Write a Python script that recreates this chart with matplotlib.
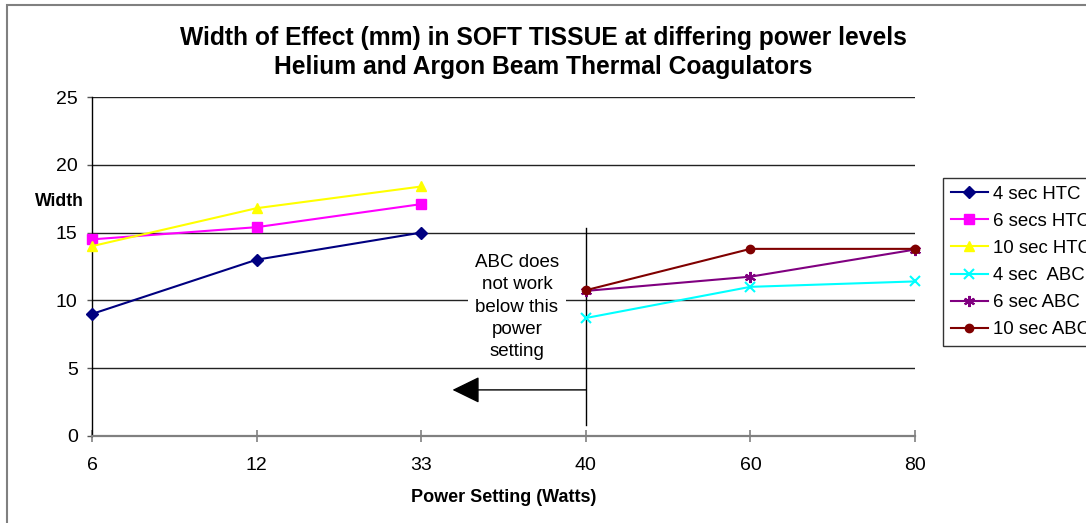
import matplotlib
matplotlib.use("Agg")
import matplotlib.pyplot as plt
from matplotlib.patches import Rectangle

plt.rcParams['font.family'] = ['Liberation Sans', 'DejaVu Sans']

power_labels = ["6", "12", "33", "40", "60", "80"]
htc_idx = [0, 1, 2]
abc_idx = [3, 4, 5]

htc_4 = [9.0, 13.0, 15.0]
htc_6 = [14.5, 15.4, 17.1]
htc_10 = [14.0, 16.8, 18.4]
abc_4 = [8.7, 11.0, 11.4]
abc_6 = [10.7, 11.75, 13.75]
abc_10 = [10.75, 13.8, 13.8]

series = [
    ("4 sec HTC", htc_idx, htc_4, "#000080", "D", 6),
    ("6 secs HTC", htc_idx, htc_6, "#FF00FF", "s", 6.5),
    ("10 sec HTC", htc_idx, htc_10, "#FFFF00", "^", 7.5),
    ("4 sec  ABC", abc_idx, abc_4, "#00FFFF", "x", 7),
    ("6 sec ABC", abc_idx, abc_6, "#800080", (6, 2, 0), 8),
    ("10 sec ABC", abc_idx, abc_10, "#800000", "o", 6),
]

W, H = 1086, 523
fig = plt.figure(figsize=(W / 100, H / 100), dpi=100)
ax = fig.add_axes([92 / W, (H - 436) / H, (915 - 92) / W, (436 - 97) / H])

for label, xs, ys, col, mk, ms in series:
    mew = 1.5 if mk in ("x",) or isinstance(mk, tuple) else 1
    ax.plot(xs, ys, color=col, marker=mk, markersize=ms, lw=1.5, label=label,
            markeredgecolor=col, markerfacecolor=col, markeredgewidth=mew,
            clip_on=False, zorder=4)

ax.set_xlim(0, 5)
ax.set_ylim(0, 25)
ax.set_yticks([0, 5, 10, 15, 20, 25])
ax.set_xticks(range(len(power_labels)))
ax.set_xticklabels(power_labels)
ax.yaxis.grid(True, color="#222222", lw=1)
ax.set_axisbelow(True)
for s in ["top", "right"]:
    ax.spines[s].set_visible(False)
ax.spines["left"].set_color("black")
ax.spines["left"].set_linewidth(1)
ax.spines["bottom"].set_color("#808080")
ax.spines["bottom"].set_linewidth(1.6)
ax.tick_params(axis="y", direction="out", length=3.8, width=1, color="#555555",
               labelsize=14, pad=6.5)
ax.tick_params(axis="x", direction="inout", length=8, width=1.2, color="#808080",
               labelsize=14, pad=11)

ax.set_xlabel("Power Setting (Watts)", fontsize=13, fontweight="bold", labelpad=11)
fig.text(59.5 / W, 1 - 202 / H, "Width", fontsize=12.7, fontweight="bold",
         ha="center", va="center")

fig.text(0.5, 1 - 38 / H, "Width of Effect (mm) in SOFT TISSUE at differing power levels",
         fontsize=17.7, fontweight="bold", ha="center", va="center")
fig.text(0.5, 1 - 67 / H, "Helium and Argon Beam Thermal Coagulators",
         fontsize=17.7, fontweight="bold", ha="center", va="center")

# annotation
ax.plot([3, 3], [0.8, 15.35], color="black", lw=1, zorder=3, clip_on=False)
ax.annotate("", xy=(2.19, 3.4), xytext=(3, 3.4),
            arrowprops=dict(arrowstyle="-|>,head_length=0.86,head_width=0.42",
                            mutation_scale=20, color="black", lw=1,
                            shrinkA=0, shrinkB=0), zorder=3)
ax.text(2.582, 9.5, "ABC does\nnot work\nbelow this\npower\nsetting",
        fontsize=13.5, ha="center", va="center", linespacing=1.4,
        bbox=dict(facecolor="white", edgecolor="none", pad=5), zorder=3)

leg = fig.legend(loc="upper left", bbox_to_anchor=(943 / W, 1 - 178 / H),
                 fontsize=13.4, frameon=True, fancybox=False, borderpad=0.42,
                 handlelength=2.0, handletextpad=0.25, labelspacing=0.54,
                 borderaxespad=0)
leg.get_frame().set_edgecolor("black")
leg.get_frame().set_linewidth(1)

fig.add_artist(Rectangle((7 / W, -0.1), 1.2, 1 - 5 / H + 0.1, transform=fig.transFigure,
                         fill=False, edgecolor="#808080", lw=1.5))

fig.savefig("out.png", dpi=100)
